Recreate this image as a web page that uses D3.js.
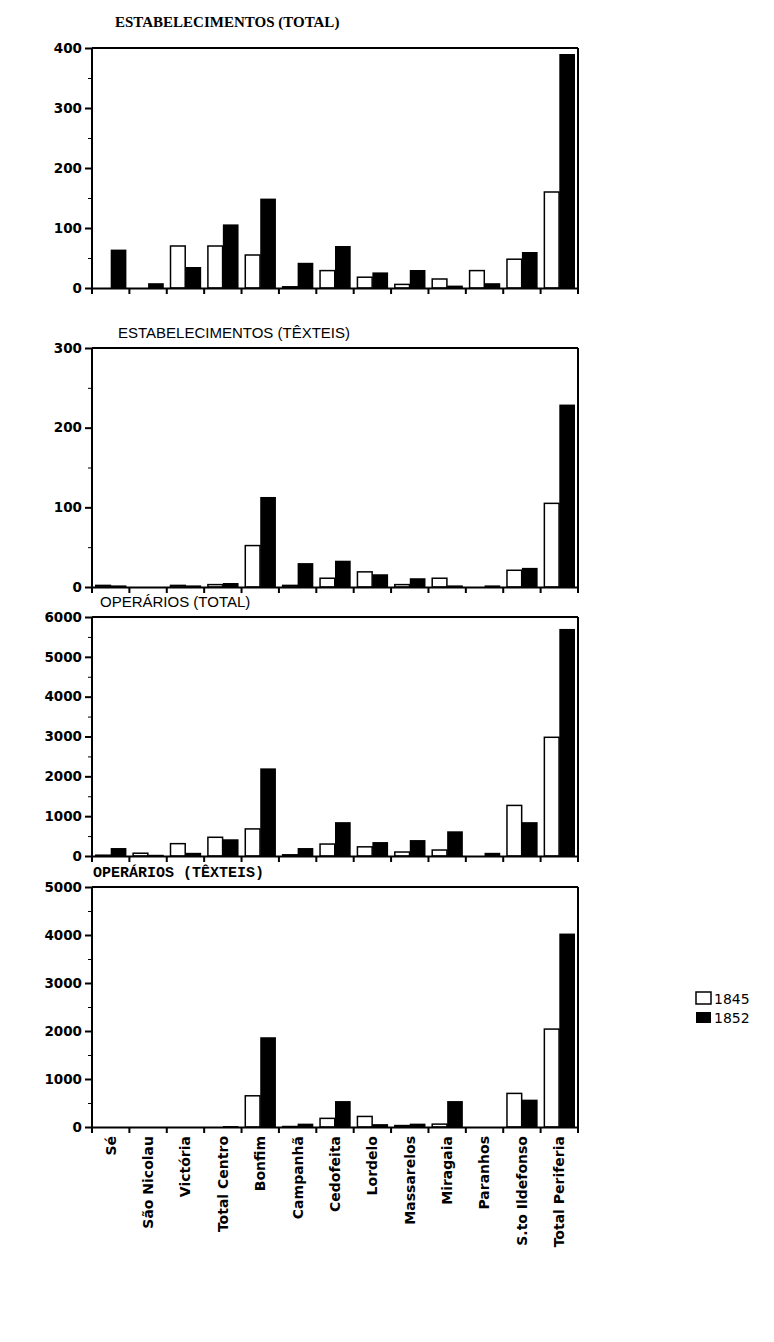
<!DOCTYPE html><html><head><meta charset="utf-8"><script src="https://cdn.jsdelivr.net/npm/d3@7"></script>
<style>body{margin:0;background:#fff}</style></head><body><svg id="c" width="774" height="1342"></svg><script>
const categories=["Sé","São Nicolau","Victória","Total Centro","Bonfim","Campanhã","Cedofeita","Lordelo","Massarelos","Miragaia","Paranhos","S.to Ildefonso","Total Periferia"];
const estTotal1845=[0,0,70,70,55,2,29,18,6,15,29,48,160];
const estTotal1852=[64,8,35,106,149,42,70,26,30,4,8,60,390];
const estText1845=[2,0,2,3,52,2,11,19,3,11,0,21,105];
const estText1852=[2,0,2,5,113,30,33,16,11,2,2,24,229];
const opTotal1845=[20,70,310,470,680,30,300,230,100,150,0,1270,2980];
const opTotal1852=[200,30,80,420,2200,200,850,350,400,620,80,850,5700];
const opText1845=[0,0,0,0,650,10,180,220,30,60,0,700,2040];
const opText1852=[0,0,0,20,1870,70,540,60,70,540,0,570,4030];
const ticks1=[0,100,200,300,400],ticks2=[0,100,200,300],ticks3=[0,1000,2000,3000,4000,5000,6000],ticks4=[0,1000,2000,3000,4000,5000];
const panels=[
 {title:"ESTABELECIMENTOS (TOTAL)",tf:"'Liberation Serif',serif",tw:"bold",tx:115,ty:27,top:48,bot:288,max:400,ticks:ticks1,a:estTotal1845,b:estTotal1852},
 {title:"ESTABELECIMENTOS (TÊXTEIS)",tf:"'Liberation Sans',Arial,sans-serif",tw:"normal",tx:118,ty:338,top:348,bot:587,max:300,ticks:ticks2,a:estText1845,b:estText1852},
 {title:"OPERÁRIOS (TOTAL)",tf:"'Liberation Sans',Arial,sans-serif",tw:"normal",tx:100,ty:607,top:617,bot:856,max:6000,ticks:ticks3,a:opTotal1845,b:opTotal1852},
 {title:"OPERÁRIOS (TÊXTEIS)",tf:"'Liberation Mono',monospace",tw:"bold",tx:93,ty:877,top:887,bot:1127,max:5000,ticks:ticks4,a:opText1845,b:opText1852}];
const svg=d3.select("#c");
const L=92,R=578;
const x=d3.scaleBand().domain(categories).range([L,R]).paddingInner(0.16).paddingOuter(0.08);
panels.forEach((p,i)=>{
 const y=d3.scaleLinear().domain([0,p.max]).range([p.bot,p.top]);
 const g=svg.append("g");
 g.append("text").attr("x",p.tx).attr("y",p.ty).text(p.title).attr("font-family",p.tf).attr("font-weight",p.tw).attr("font-size",15);
 const bw=x.bandwidth()/2;
 categories.forEach((c,j)=>{
  g.append("rect").attr("x",x(c)+0.75).attr("y",y(p.a[j])).attr("width",bw-1).attr("height",p.bot-y(p.a[j])).attr("fill","#fff").attr("stroke","#000").attr("stroke-width",1.5);
  g.append("rect").attr("x",x(c)+bw).attr("y",y(p.b[j])).attr("width",bw).attr("height",p.bot-y(p.b[j])).attr("fill","#000");
 });
 g.append("line").attr("x1",R).attr("x2",R).attr("y1",p.top).attr("y2",p.bot).attr("stroke","#000").attr("stroke-width",2);
 g.append("line").attr("x1",L).attr("x2",R).attr("y1",p.top).attr("y2",p.top).attr("stroke","#000").attr("stroke-width",2);
 const ya=g.append("g").attr("transform",`translate(${L},0)`).call(d3.axisLeft(y).tickValues(p.ticks).tickSize(7).tickFormat(d3.format("d")));
 const minor=[];for(let k=0;k<p.ticks.length-1;k++)minor.push((p.ticks[k]+p.ticks[k+1])/2);
 g.append("g").attr("transform",`translate(${L},0)`).call(d3.axisLeft(y).tickValues(minor).tickSize(4).tickFormat("")).select(".domain").remove();
 const xa=g.append("g").attr("transform",`translate(0,${p.bot})`).call(d3.axisBottom(x).tickSize(0).tickFormat(i===3?d=>d:""));
 categories.forEach(c=>{g.append("line").attr("x1",x(c)-x.step()*x.paddingInner()/2).attr("x2",x(c)-x.step()*x.paddingInner()/2).attr("y1",p.bot).attr("y2",p.bot+6).attr("stroke","#000").attr("stroke-width",2);});
 g.append("line").attr("x1",R).attr("x2",R).attr("y1",p.bot).attr("y2",p.bot+6).attr("stroke","#000").attr("stroke-width",2);
 [ya,xa].forEach(a=>{a.selectAll(".domain").attr("stroke-width",2).attr("stroke","#000");a.selectAll("line").attr("stroke-width",2);a.selectAll("text").attr("font-family","'DejaVu Sans',sans-serif").attr("font-weight","bold").attr("font-size",13.5).attr("fill","#000");});
 ya.selectAll(".domain").attr("d",`M0,${p.top}V${p.bot}`);
 if(i===3){xa.selectAll("text").attr("transform","rotate(-90)").attr("text-anchor","end").attr("dx","-9").attr("dy","0.35em").attr("x",0).attr("y",0).attr("font-size",14);}
});
const lg=svg.append("g").attr("font-family","'DejaVu Sans',sans-serif").attr("font-size",14);
lg.append("rect").attr("x",696).attr("y",992).attr("width",15).attr("height",12).attr("fill","#fff").attr("stroke","#000").attr("stroke-width",1.5);
lg.append("text").attr("x",714).attr("y",1004).text("1845");
lg.append("rect").attr("x",696).attr("y",1012).attr("width",15).attr("height",11).attr("fill","#000");
lg.append("text").attr("x",714).attr("y",1023).text("1852");
</script></body></html>
